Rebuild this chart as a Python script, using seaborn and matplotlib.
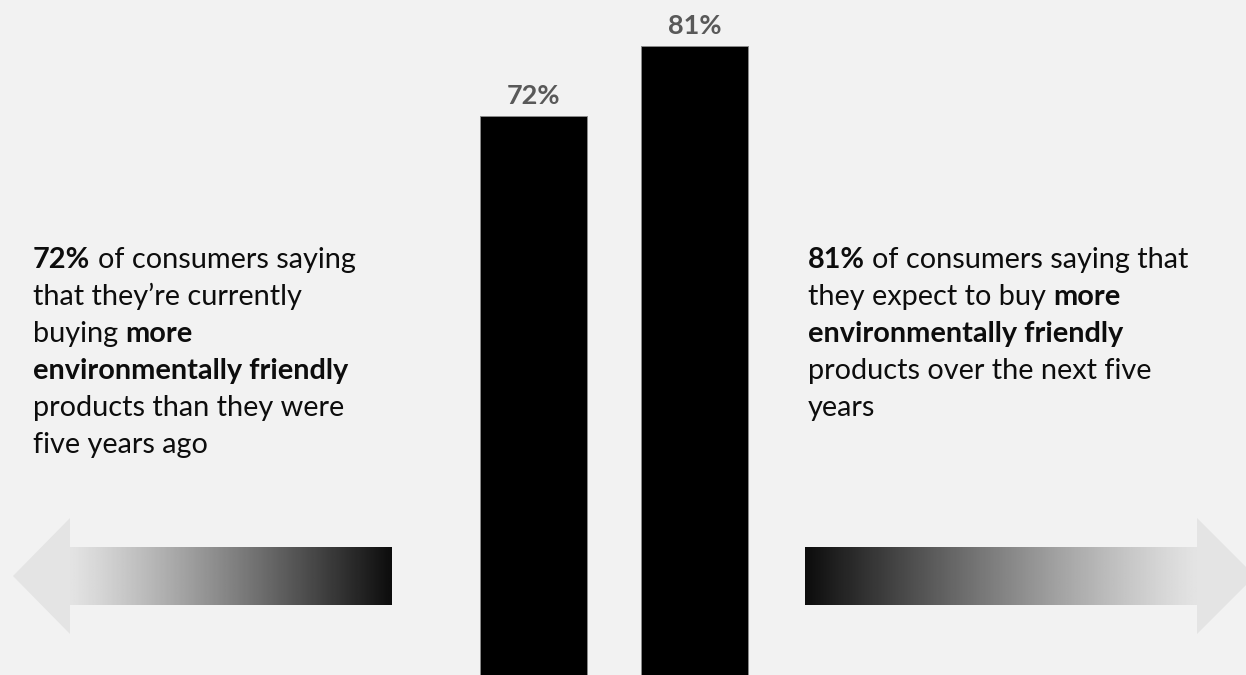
import numpy as np
import pandas as pd
import matplotlib
matplotlib.use("Agg")
import matplotlib.pyplot as plt
from matplotlib.patches import Polygon
import seaborn as sns

# ---- data ----
categories = ["Currently buying more", "Expect to buy more"]
values = [72, 81]
value_labels = ["72%", "81%"]

left_lines = [
    [("72%", True), (" of consumers saying", False)],
    [("that they\u2019re currently", False)],
    [("buying ", False), ("more", True)],
    [("environmentally friendly", True)],
    [("products than they were", False)],
    [("five years ago", False)],
]
right_lines = [
    [("81%", True), (" of consumers saying that", False)],
    [("they expect to buy ", False), ("more", True)],
    [("environmentally friendly", True)],
    [("products over the next five", False)],
    [("years", False)],
]

sns.set_theme(style="white")
FONT = ["Lato", "DejaVu Sans"]
plt.rcParams["font.family"] = FONT

BG = "#f2f2f2"
W, H = 1246, 675
fig = plt.figure(figsize=(W / 100, H / 100), dpi=100, facecolor=BG)

# bar axes spanning the whole figure
ax = fig.add_axes([0, 0, 1, 1])
ax.set_facecolor(BG)
df = pd.DataFrame({"cat": categories, "val": values})
sns.barplot(data=df, x="cat", y="val", color="black", width=0.665,
            edgecolor="#8a8a8a", linewidth=0.7, saturation=1, ax=ax)
ax.set_xlim(-3.314, 4.425)
ax.set_ylim(0, 86.9)
ax.axis("off")
for i, (v, lab) in enumerate(zip(values, value_labels)):
    ax.text(i, v + 1.5, lab, ha="center", va="baseline", fontsize=19.5,
            fontweight="bold", color="#595959")

# overlay in pixel coordinates
ov = fig.add_axes([0, 0, 1, 1], zorder=5)
ov.axis("off")
ov.patch.set_alpha(0)

# arrows
light = 0xe3 / 255.0
dark = 0x0d / 255.0
t = np.linspace(0, 1, 256)
grad = (light + (dark - light) * t ** 1.15)[None, :]
# left arrow (light at left, dark at right)
ov.imshow(grad, cmap="gray", vmin=0, vmax=1, aspect="auto",
          extent=(70, 392, 605, 547), interpolation="bilinear", zorder=2)
ov.add_patch(Polygon([(70, 518), (70, 634), (13, 576)], closed=True,
                     facecolor="#e4e4e4", edgecolor="none", zorder=2))
# right arrow (dark at left, light at right)
ov.imshow(grad[:, ::-1], cmap="gray", vmin=0, vmax=1, aspect="auto",
          extent=(805, 1197, 605, 547), interpolation="bilinear", zorder=2)
ov.add_patch(Polygon([(1197, 518), (1197, 634), (1255, 576)], closed=True,
                     facecolor="#e4e4e4", edgecolor="none", zorder=2))
ov.set_xlim(0, W)
ov.set_ylim(H, 0)

# rich text
renderer = fig.canvas.get_renderer()
FS = 20.8


def space_width(bold):
    w = "bold" if bold else "normal"
    a = ov.text(0, 0, "a a", fontsize=FS, fontweight=w)
    b = ov.text(0, 0, "aa", fontsize=FS, fontweight=w)
    res = a.get_window_extent(renderer).width - b.get_window_extent(renderer).width
    a.remove(); b.remove()
    return res


def draw_lines(lines, x0, y0, dy):
    for li, segs in enumerate(lines):
        x = x0
        y = y0 + li * dy
        for txt, bold in segs:
            lead = len(txt) - len(txt.lstrip(" "))
            trail = len(txt) - len(txt.rstrip(" "))
            core = txt.strip(" ")
            spw = space_width(bold)
            x += lead * spw
            tx = ov.text(x, y, core, fontsize=FS, color="#0d0d0d",
                         fontweight="bold" if bold else "normal",
                         ha="left", va="baseline", zorder=6)
            x += tx.get_window_extent(renderer).width + trail * spw


draw_lines(left_lines, 33, 268, 37)
draw_lines(right_lines, 808, 268, 37)

fig.savefig("out.png", dpi=100, facecolor=BG)
